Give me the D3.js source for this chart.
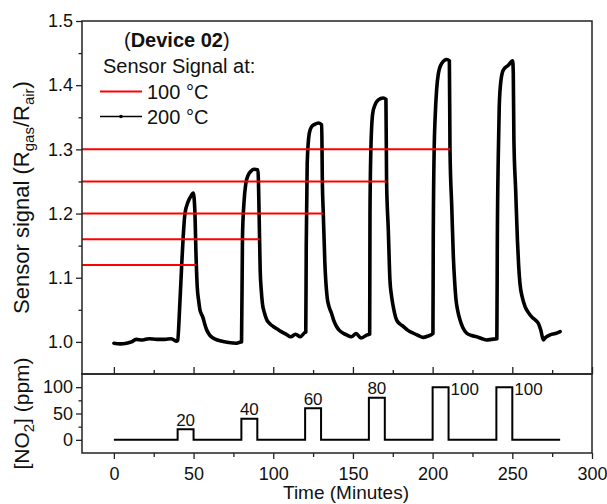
<!DOCTYPE html>
<html>
<head>
<meta charset="utf-8">
<script src="https://cdn.jsdelivr.net/npm/d3@7/dist/d3.min.js"></script>
<style>
  html, body { margin: 0; padding: 0; background: #fff; }
  svg text { font-family: "Liberation Sans", Arial, Helvetica, sans-serif; fill: #111; }
</style>
</head>
<body>
<svg id="chart" width="607" height="504"></svg>
<script>
// Sensor response at 200 °C: time (min) and signal R_gas/R_air
const timeMin = [
  0, 4, 8, 11, 14, 18, 22, 27, 32, 36, 39.5,
  40, 41.4, 42.5, 43.5, 44.6, 46.6, 48.8, 49.8, 50.8, 51.5, 52.3, 53.2, 54, 55, 56, 57, 58.2, 60, 62.3, 65, 68.6, 72, 77, 79.8,
  80.1, 80.7, 81.6, 82.8, 84.3, 86, 88, 90.4, 91.2, 91.8, 92.5, 93.2, 94.5, 96, 98, 100, 102.5, 105, 108, 111, 114, 117, 120.2,
  120.4, 120.7, 121.3, 122.6, 124, 126, 128.5, 130.4, 130.8, 131.4, 132.4, 133.8, 135, 136.5, 138, 139.7, 141.5, 143.9, 146, 149, 152, 155, 159, 160.5,
  160.7, 161.3, 162.4, 163.8, 165.9, 169, 170.7, 171.1, 172.2, 173.2, 174.2, 175.3, 176.3, 177.4, 179.5, 181.6, 184.5, 187.9, 191, 194, 197, 200.2,
  200.4, 200.9, 201.7, 202.5, 203.6, 205.7, 208.8, 210.5, 210.9, 212, 213, 213.8, 214.7, 215.8, 217.2, 219, 221.4, 224.5, 227.6, 231, 233.9, 237, 240.3,
  240.6, 241.2, 241.8, 242.9, 244.4, 247.5, 250.2, 250.6, 251, 252.1, 253.2, 254, 254.8, 256.2, 258, 260, 262.2, 264.5, 266.3, 267.8, 269.5, 270.5, 273.7, 277, 280
];
const signal200 = [
  0.998, 0.997, 0.998, 1.000, 1.004, 1.003, 1.005, 1.004, 1.004, 1.005, 1.001,
  1.002, 1.06, 1.117, 1.164, 1.2, 1.2185, 1.229, 1.232, 1.205, 1.139, 1.086, 1.064, 1.05, 1.043, 1.037, 1.028, 1.019, 1.011, 1.006, 1.003, 1.0005, 0.999, 0.998, 1.0,
  1.0, 1.164, 1.216, 1.247, 1.26, 1.266, 1.269, 1.268, 1.19, 1.112, 1.08, 1.06, 1.045, 1.034, 1.028, 1.024, 1.02, 1.016, 1.012, 1.008, 1.012, 1.008, 1.015,
  1.015, 1.148, 1.278, 1.325, 1.335, 1.339, 1.341, 1.338, 1.252, 1.2, 1.122, 1.07, 1.055, 1.045, 1.033, 1.024, 1.018, 1.0135, 1.011, 1.008, 1.013, 1.006, 1.011, 1.012,
  1.2, 1.304, 1.356, 1.369, 1.377, 1.38, 1.378, 1.252, 1.174, 1.097, 1.072, 1.055, 1.043, 1.034, 1.028, 1.024, 1.018, 1.0135, 1.01, 1.007, 1.009, 1.013,
  1.159, 1.289, 1.356, 1.3925, 1.418, 1.434, 1.44, 1.438, 1.299, 1.211, 1.133, 1.095, 1.065, 1.048, 1.034, 1.022, 1.0135, 1.01, 1.008, 1.005, 1.003, 1.004, 1.005,
  1.159, 1.289, 1.367, 1.408, 1.424, 1.431, 1.438, 1.42, 1.315, 1.237, 1.159, 1.118, 1.091, 1.07, 1.055, 1.046, 1.039, 1.034, 1.029, 1.019, 1.003, 1.006, 1.011, 1.013, 1.016
];

// Sensor response at 100 °C: level per pulse and the time the level ends
const level100 = [1.12, 1.16, 1.20, 1.25, 1.30];
const level100End = [51.7, 91.5, 131.4, 171.1, 210.9];

// NO2 exposure profile (step after)
const gasTime = [0, 40, 50, 80, 90, 120, 130, 160, 170, 200, 210, 240, 250, 280];
const gasPpm  = [0, 20, 0, 40, 0, 60, 0, 80, 0, 100, 0, 100, 0, 0];
const pulseStart = [40, 80, 120, 160, 200, 240];
const pulseEnd   = [50, 90, 130, 170, 210, 250];
const pulsePpm   = [20, 40, 60, 80, 100, 100];
const pulseLabels = ["20", "40", "60", "80", "100", "100"];

// Ticks
const xTicks = [0, 50, 100, 150, 200, 250, 300];
const xMinor = [25, 75, 125, 175, 225, 275];
const yTicks = [1.0, 1.1, 1.2, 1.3, 1.4, 1.5];
const yMinor = [1.05, 1.15, 1.25, 1.35, 1.45];
const gTicks = [0, 50, 100];
const gMinor = [25, 75];

const svg = d3.select("#chart");
const L = 82, R = 592, T1 = 21, B1 = 374, T2 = 374, B2 = 453;
const axisColor = "#222";

const x = d3.scaleLinear().domain([-20, 300]).range([L, R]);
const y = d3.scaleLinear().domain([0.95, 1.5]).range([B1, T1]);
const yg = d3.scaleLinear().domain([-25, 125]).range([B2, T2]);

svg.append("rect").attr("width", 607).attr("height", 504).attr("fill", "#fff");

function styleAxis(g) {
  g.select(".domain").remove();
  g.selectAll(".tick line").attr("stroke", axisColor).attr("stroke-width", 1.3);
  g.selectAll(".tick text").attr("font-size", 18).attr("fill", "#111")
    .attr("font-family", "Liberation Sans, Arial, sans-serif");
}

// ---- main panel ----
svg.append("g").attr("transform", `translate(${L},0)`)
  .call(d3.axisLeft(y).tickValues(yTicks).tickFormat(d3.format(".1f")).tickSize(6).tickPadding(3))
  .call(styleAxis);
svg.append("g").attr("transform", `translate(${L},0)`)
  .call(d3.axisLeft(y).tickValues(yMinor).tickFormat("").tickSize(3.5))
  .call(styleAxis);
// inward ticks along the panel's bottom edge
svg.append("g").attr("transform", `translate(0,${B1})`)
  .call(d3.axisTop(x).tickValues(xTicks).tickFormat("").tickSize(7))
  .call(styleAxis);
svg.append("g").attr("transform", `translate(0,${B1})`)
  .call(d3.axisTop(x).tickValues(xMinor).tickFormat("").tickSize(4))
  .call(styleAxis);

const line200 = d3.line().x(d => x(d[0])).y(d => y(d[1])).curve(d3.curveMonotoneX);
svg.append("path")
  .datum(timeMin.map((t, i) => [t, signal200[i]]))
  .attr("d", line200)
  .attr("fill", "none").attr("stroke", "#000")
  .attr("stroke-width", 3.6).attr("stroke-linejoin", "round").attr("stroke-linecap", "round");

svg.append("g").selectAll("line").data(level100).join("line")
  .attr("x1", x(-20)).attr("x2", (d, i) => x(level100End[i]))
  .attr("y1", d => y(d)).attr("y2", d => y(d))
  .attr("stroke", "#f00").attr("stroke-width", 2);

svg.append("rect").attr("x", L).attr("y", T1).attr("width", R - L).attr("height", B1 - T1)
  .attr("fill", "none").attr("stroke", axisColor).attr("stroke-width", 1.5);

// legend
const lg = svg.append("g");
const t0 = lg.append("text").attr("x", 124).attr("y", 47).attr("font-size", 20);
t0.append("tspan").text("(");
t0.append("tspan").attr("font-weight", "bold").text("Device 02");
t0.append("tspan").text(")");
lg.append("text").attr("x", 103).attr("y", 73).attr("font-size", 20).text("Sensor Signal at:");
lg.append("line").attr("x1", 100).attr("x2", 142).attr("y1", 91.5).attr("y2", 91.5)
  .attr("stroke", "#f00").attr("stroke-width", 2);
lg.append("text").attr("x", 147).attr("y", 98.5).attr("font-size", 20).text("100 °C");
lg.append("line").attr("x1", 100).attr("x2", 142).attr("y1", 116.5).attr("y2", 116.5)
  .attr("stroke", "#000").attr("stroke-width", 1.3);
lg.append("circle").attr("cx", 121).attr("cy", 116.5).attr("r", 1.8).attr("fill", "#000");
lg.append("text").attr("x", 147).attr("y", 123.5).attr("font-size", 20).text("200 °C");

// ---- gas panel ----
svg.append("g").attr("transform", `translate(${L},0)`)
  .call(d3.axisLeft(yg).tickValues(gTicks).tickSize(6).tickPadding(3))
  .call(styleAxis);
svg.append("g").attr("transform", `translate(${L},0)`)
  .call(d3.axisLeft(yg).tickValues(gMinor).tickFormat("").tickSize(3.5))
  .call(styleAxis);
svg.append("g").attr("transform", `translate(0,${B2})`)
  .call(d3.axisBottom(x).tickValues(xTicks).tickSize(6).tickPadding(8))
  .call(styleAxis);
svg.append("g").attr("transform", `translate(0,${B2})`)
  .call(d3.axisBottom(x).tickValues(xMinor).tickFormat("").tickSize(4))
  .call(styleAxis);

const lineGas = d3.line().x(d => x(d[0])).y(d => yg(d[1])).curve(d3.curveStepAfter);
svg.append("path")
  .datum(gasTime.map((t, i) => [t, gasPpm[i]]))
  .attr("d", lineGas)
  .attr("fill", "none").attr("stroke", "#000").attr("stroke-width", 2);

svg.append("g").selectAll("text").data(pulseLabels).join("text")
  .attr("font-size", 17)
  .attr("x", (d, i) => pulsePpm[i] >= 100 ? x(pulseEnd[i]) + 2 : x((pulseStart[i] + pulseEnd[i]) / 2))
  .attr("y", (d, i) => pulsePpm[i] >= 100 ? yg(pulsePpm[i]) + 8 : yg(pulsePpm[i]) - 3.5)
  .attr("text-anchor", (d, i) => pulsePpm[i] >= 100 ? "start" : "middle")
  .text(d => d);

svg.append("rect").attr("x", L).attr("y", T2).attr("width", R - L).attr("height", B2 - T2)
  .attr("fill", "none").attr("stroke", axisColor).attr("stroke-width", 1.5);

// axis titles
const yt = svg.append("text").attr("font-size", 22).attr("text-anchor", "middle")
  .attr("transform", `translate(29,${(T1 + B1) / 2}) rotate(-90)`);
yt.append("tspan").text("Sensor signal (R");
yt.append("tspan").attr("font-size", 15).attr("dy", 5).text("gas");
yt.append("tspan").attr("dy", -5).text("/R");
yt.append("tspan").attr("font-size", 15).attr("dy", 5).text("air");
yt.append("tspan").attr("dy", -5).text(")");

const gt = svg.append("text").attr("font-size", 21).attr("text-anchor", "middle")
  .attr("transform", `translate(29,${(T2 + B2) / 2}) rotate(-90)`);
gt.append("tspan").text("[NO");
gt.append("tspan").attr("font-size", 15).attr("dy", 5).text("2");
gt.append("tspan").attr("dy", -5).text("] (ppm)");

svg.append("text").attr("font-size", 19).attr("text-anchor", "middle")
  .attr("x", (L + R) / 2 + 9).attr("y", 499).text("Time (Minutes)");
</script>
</body>
</html>
